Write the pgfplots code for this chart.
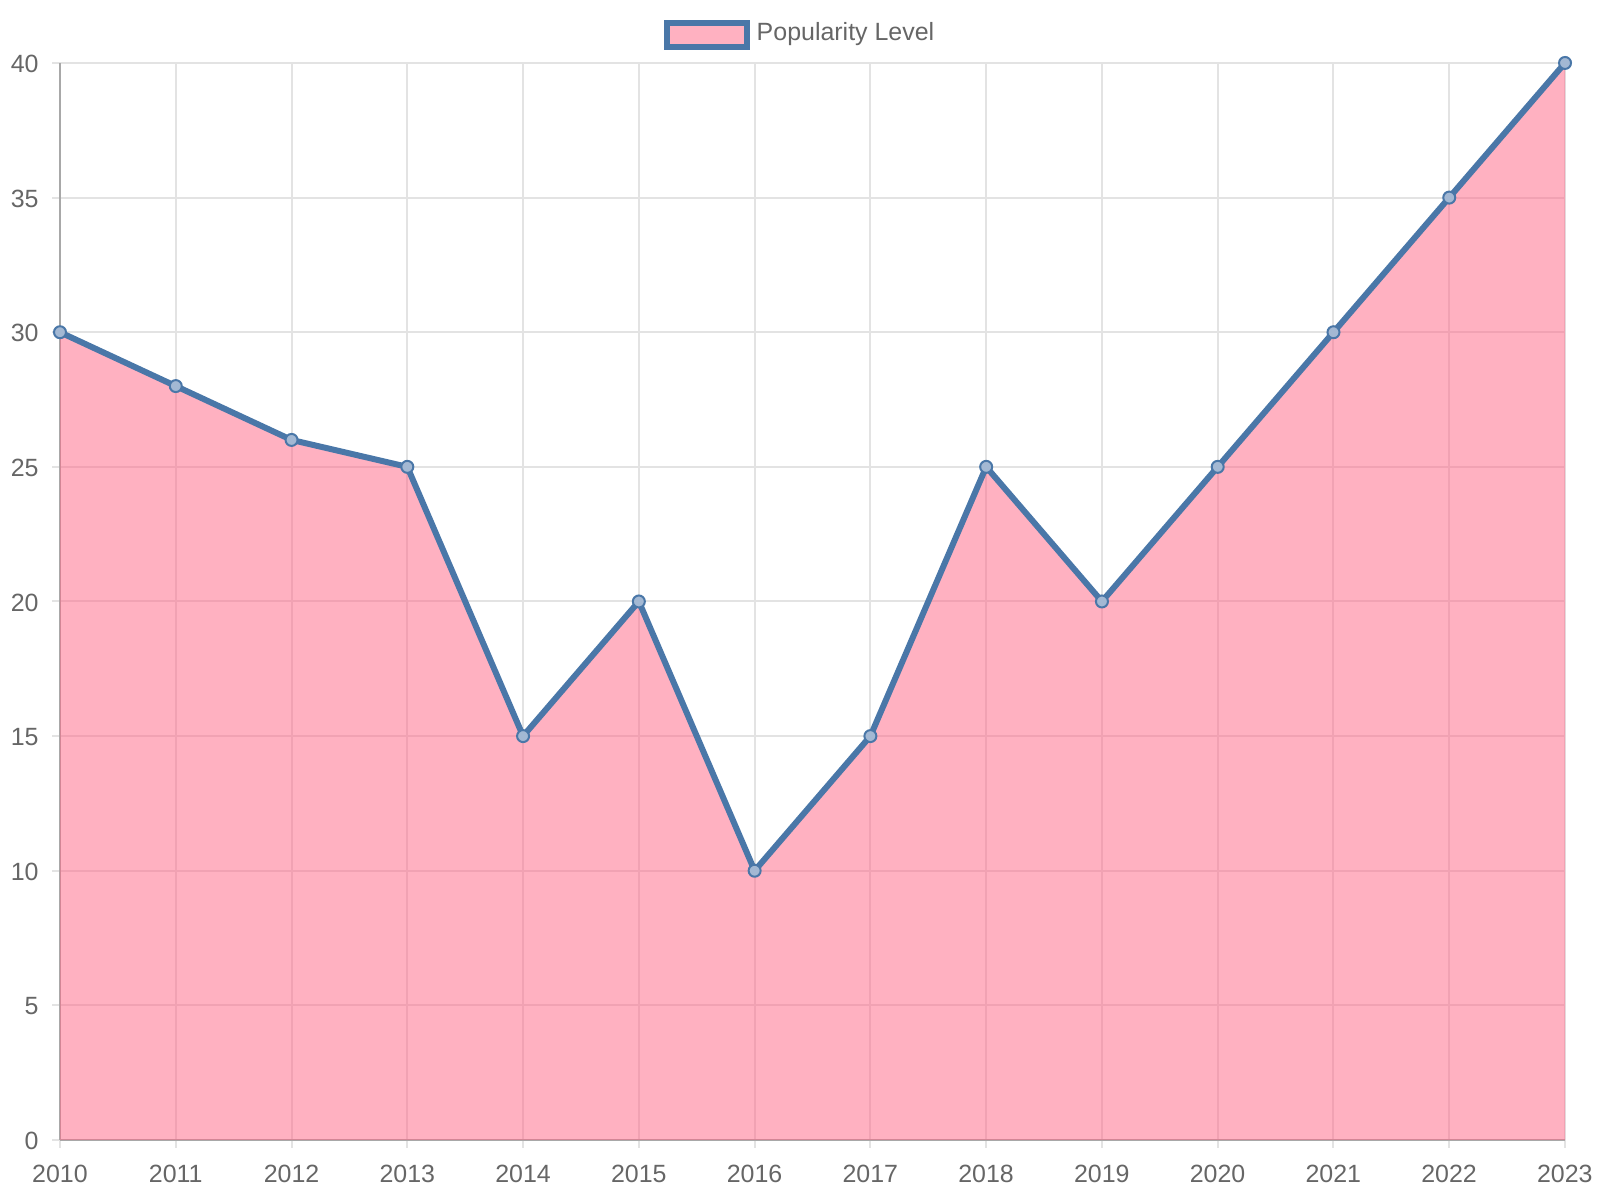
\documentclass[border=0pt]{standalone}
\usepackage{pgfplots}
\pgfplotsset{compat=1.18}
\usepackage{fontspec}
\setmainfont{Liberation Sans}
\definecolor{lineblue}{HTML}{4A77A8}
\definecolor{pinkc}{RGB}{255,99,132}
\definecolor{pinkfill}{HTML}{FFB1C1}
\definecolor{markfill}{HTML}{A3B8D3}
\definecolor{txt}{HTML}{666666}
\definecolor{gridc}{HTML}{E3E3E3}
\definecolor{axc}{HTML}{A8A8A8}
\begin{document}
\begin{tikzpicture}
\begin{axis}[
  scale only axis,
  width=15.05cm, height=10.77cm,
  xmin=2010, xmax=2023, ymin=0, ymax=40,
  xtick={2010,...,2023}, ytick={0,5,...,40},
  grid=major,
  major grid style={gridc, line width=0.02cm},
  axis line style={axc, line width=0.02cm, -},
  axis x line*=bottom, axis y line*=left,
  tick align=outside,
  major tick length=0.08cm,
  tick style={gridc, line width=0.02cm},
  /pgf/number format/assume math mode=true,
  xticklabel style={/pgf/number format/1000 sep={}, font=\fontsize{7.1pt}{8pt}\selectfont, text=txt, yshift=-0.05cm},
  yticklabel style={font=\fontsize{7.1pt}{8pt}\selectfont, text=txt, xshift=-0.01cm, yshift=-0.01cm},
  clip=false,
  legend style={at={(0.5,1)}, anchor=south, yshift=0.09cm, xshift=-0.1cm, draw=none, fill=none,
    font=\fontsize{7.1pt}{8pt}\selectfont, text=txt, inner sep=0pt},
  legend cell align=left,
]
\addplot[fill=pinkc, fill opacity=0.5, draw=none, forget plot] coordinates {
(2010,30) (2011,28) (2012,26) (2013,25) (2014,15) (2015,20) (2016,10)
(2017,15) (2018,25) (2019,20) (2020,25) (2021,30) (2022,35) (2023,40)} \closedcycle;
\addplot[lineblue, line width=0.06cm, mark=*, mark size=0.06cm,
  mark options={fill=markfill, draw=lineblue, line width=0.02cm},
  legend image code/.code={\draw[draw=lineblue, line width=0.06cm, fill=pinkfill] (0cm,-0.12cm) rectangle (0.8cm,0.12cm);}
] coordinates {
(2010,30) (2011,28) (2012,26) (2013,25) (2014,15) (2015,20) (2016,10)
(2017,15) (2018,25) (2019,20) (2020,25) (2021,30) (2022,35) (2023,40)};
\addlegendentry{Popularity Level}
\coordinate (SW) at (rel axis cs:0,0);
\coordinate (NE) at (rel axis cs:1,1);
\end{axis}
\pgfresetboundingbox
\path ([shift={(-0.6cm,-0.6cm)}]SW) rectangle ([shift={(0.35cm,0.63cm)}]NE);
\end{tikzpicture}
\end{document}
